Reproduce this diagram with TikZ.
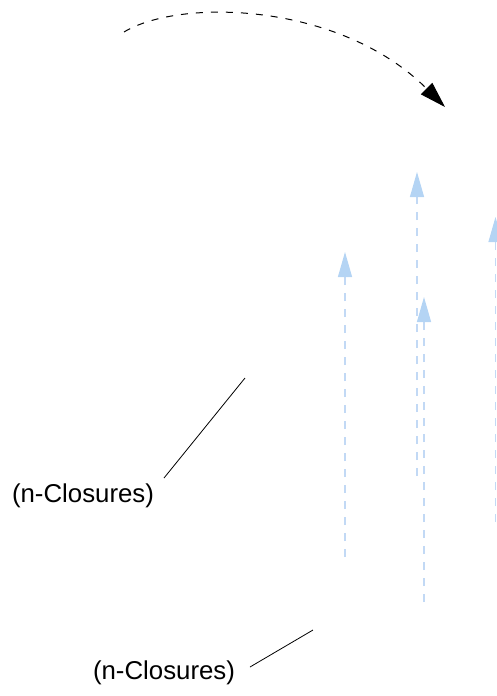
\documentclass[tikz,border=0pt]{standalone}
\usepackage{fontspec}
\setmainfont{Liberation Sans}
\usetikzlibrary{arrows.meta}
\definecolor{lblue}{HTML}{B4D4F4}
\definecolor{dblue}{HTML}{C2D9F5}
\tikzset{
  lbl/.style={font=\fontsize{25.8}{30}\selectfont, inner sep=0pt},
  leader/.style={draw=black, line width=0.8pt},
  bluearrow/.style={draw=dblue, line width=1.1pt, dash pattern=on 8pt off 8pt,
    -{Triangle[length=25pt,width=14pt,color=lblue,fill=lblue]}},
  bigarrow/.style={draw=black, line width=1pt, dash pattern=on 7pt off 8pt,
    -{Triangle[length=26pt,width=16pt]}}
}
\begin{document}
\begin{tikzpicture}[x=1pt,y=-1pt]
\useasboundingbox (0,0) rectangle (496,696);
% top curved arrow
\coordinate (cs) at (124,32);
\coordinate (ce) at (445,107);
\draw[bigarrow] (cs) .. controls (180,-2) and (340,2) .. (ce);
% blue upward arrows
\coordinate (a1s) at (345,557); \coordinate (a1e) at (345,252);
\coordinate (a2s) at (417,476); \coordinate (a2e) at (417,172);
\coordinate (a3s) at (424,602); \coordinate (a3e) at (424,297);
\coordinate (a4s) at (495.5,522); \coordinate (a4e) at (495.5,217);
\draw[bluearrow] (a1s) -- (a1e);
\draw[bluearrow] (a2s) -- (a2e);
\draw[bluearrow] (a3s) -- (a3e);
\draw[bluearrow] (a4s) -- (a4e);
% labels
\node[lbl] (t1) at (83,496) {(n-Closures)};
\coordinate (l1a) at (245,378);
\coordinate (l1b) at (164,478);
\draw[leader] (l1a) -- (l1b);
\node[lbl] (t2) at (164,673) {(n-Closures)};
\coordinate (l2a) at (313,630);
\coordinate (l2b) at (250,667);
\draw[leader] (l2a) -- (l2b);
\end{tikzpicture}
\end{document}
